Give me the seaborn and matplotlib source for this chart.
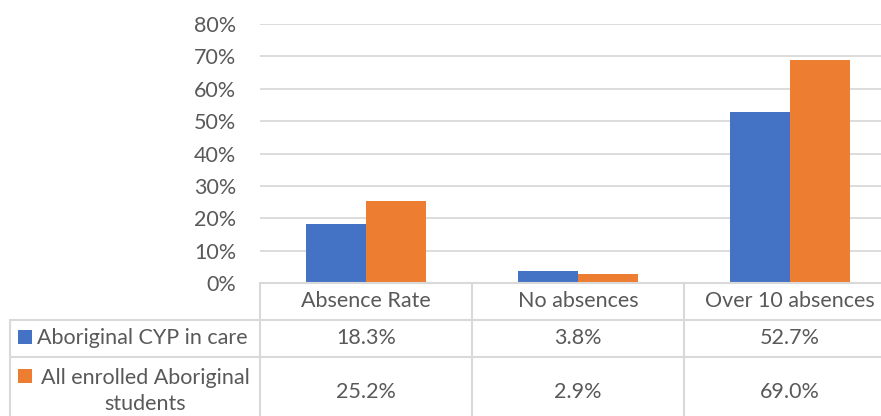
import matplotlib
matplotlib.use("Agg")
import matplotlib.pyplot as plt
import seaborn as sns
import pandas as pd
from matplotlib.lines import Line2D
from matplotlib.patches import Rectangle
from matplotlib.transforms import blended_transform_factory

categories = ["Absence Rate", "No absences", "Over 10 absences"]
series_names = ["Aboriginal CYP in care", "All enrolled Aboriginal\nstudents"]
cyp_in_care = [0.183, 0.038, 0.527]
all_enrolled = [0.252, 0.029, 0.690]
value_labels = [["18.3%", "3.8%", "52.7%"], ["25.2%", "2.9%", "69.0%"]]
ytick_values = [0, 0.1, 0.2, 0.3, 0.4, 0.5, 0.6, 0.7, 0.8]
ytick_labels = ["0%", "10%", "20%", "30%", "40%", "50%", "60%", "70%", "80%"]
colors = ["#4472C4", "#ED7D31"]

df = pd.DataFrame({
    "category": categories * 2,
    "series": [series_names[0]] * 3 + [series_names[1]] * 3,
    "value": cyp_in_care + all_enrolled,
})

sns.set_theme(style="white")
plt.rcParams["font.family"] = ["Lato", "DejaVu Sans"]
TXT = "#595959"
GRID = "#D9D9D9"
FS = 15.5

W, H = 881, 416
fig = plt.figure(figsize=(W / 100, H / 100), dpi=100)

def fx(px):
    return px / W

def fy(py):
    return 1 - py / H

left, right = 260, 896
bottom, top = 283, 24
ax = fig.add_axes([fx(left), fy(bottom), fx(right) - fx(left), fy(top) - fy(bottom)])

sns.barplot(data=df, x="category", y="value", hue="series", palette=colors,
            width=0.57, saturation=1, ax=ax, legend=False, edgecolor="none")
ax.set_xlim(-0.5, 2.5)
ax.set_ylim(0, 0.8)
ax.set_yticks(ytick_values)
ax.set_yticklabels(ytick_labels, color=TXT, fontsize=FS)
ax.tick_params(axis="y", length=0, pad=17)
ax.set_xticks([])
ax.set_xlabel("")
ax.set_ylabel("")
for s in ax.spines.values():
    s.set_visible(False)
ax.grid(axis="y", color=GRID, linewidth=1.3)
ax.set_axisbelow(True)

# ---- data table ----
bt = blended_transform_factory(ax.transData, fig.transFigure)
ft = fig.transFigure
lw = 1.5

def hline(x0, x1, y):
    fig.add_artist(Line2D([fx(x0), fx(x1)], [fy(y), fy(y)], transform=ft, color=GRID, lw=lw))

def vline(x, y0, y1):
    fig.add_artist(Line2D([fx(x), fx(x)], [fy(y0), fy(y1)], transform=ft, color=GRID, lw=lw))

row_top, row1, row2, row_end = 283, 320, 357, 430
hline(left, right, row_top)
hline(10, right, row1)
hline(10, right, row2)
vline(10, row1, row_end)
for i in range(len(categories) + 1):
    xb = i - 0.5
    fig.add_artist(Line2D([xb, xb], [fy(row_top), fy(row_end)], transform=bt, color=GRID, lw=lw))

for i, c in enumerate(categories):
    fig.text(i, fy(301), c, transform=bt, ha="center", va="center", color=TXT, fontsize=FS)
    fig.text(i, fy(338), value_labels[0][i], transform=bt, ha="center", va="center", color=TXT, fontsize=FS)
    fig.text(i, fy(392), value_labels[1][i], transform=bt, ha="center", va="center", color=TXT, fontsize=FS)

# legend keys in table
fig.add_artist(Rectangle((fx(18), fy(344)), fx(14), fy(330) - fy(344), transform=ft,
                         facecolor=colors[0], edgecolor="none"))
fig.text(fx(37), fy(338), series_names[0], ha="left", va="center", color=TXT, fontsize=FS)
fig.add_artist(Rectangle((fx(18), fy(383)), fx(14), fy(369) - fy(383), transform=ft,
                         facecolor=colors[1], edgecolor="none"))
fig.text(fx(145), fy(391), series_names[1], ha="center", va="center", color=TXT,
         fontsize=FS, linespacing=1.4, multialignment="center")

fig.savefig("out.png", dpi=100)
